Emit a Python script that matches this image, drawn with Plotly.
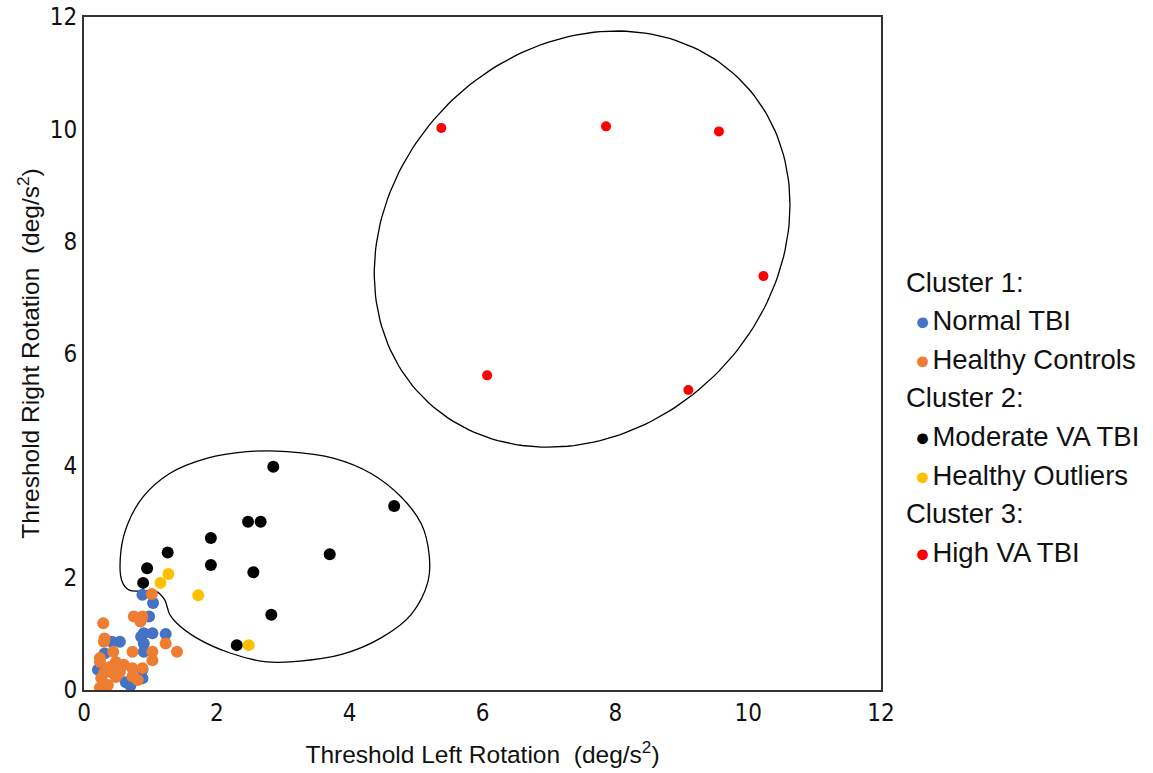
import numpy as np
import plotly.graph_objects as go

# ---- data ----
normal_tbi_x = [0.88, 1.04, 0.98, 0.90, 1.03, 1.23, 0.90, 0.90, 0.88, 0.88, 0.70, 0.63, 0.54, 0.42, 0.31, 0.21, 0.86]
normal_tbi_y = [1.70, 1.55, 1.31, 1.01, 1.01, 1.00, 0.83, 0.68, 0.36, 0.21, 0.08, 0.14, 0.86, 0.86, 0.65, 0.36, 0.95]

healthy_ctrl_x = [1.02, 0.75, 0.88, 0.85, 1.23, 1.40, 0.73, 1.03, 1.03, 0.73, 0.88, 0.73, 0.29, 0.31, 0.30,
                  0.44, 0.24, 0.48, 0.39, 0.26, 0.54, 0.81, 0.24, 0.48, 0.36, 0.24, 0.60, 0.44, 0.30]
healthy_ctrl_y = [1.71, 1.31, 1.31, 1.22, 0.83, 0.68, 0.68, 0.68, 0.53, 0.39, 0.39, 0.24, 1.19, 0.92, 0.86,
                  0.68, 0.50, 0.50, 0.41, 0.21, 0.32, 0.18, 0.04, 0.23, 0.09, 0.57, 0.45, 0.30, 0.30]

moderate_va_x = [2.85, 4.67, 2.47, 2.66, 1.91, 1.26, 3.70, 0.95, 1.91, 2.55, 0.89, 2.82, 2.30]
moderate_va_y = [3.98, 3.28, 3.00, 3.00, 2.71, 2.45, 2.42, 2.17, 2.23, 2.10, 1.91, 1.34, 0.80]

healthy_out_x = [1.27, 1.15, 1.72, 2.48]
healthy_out_y = [2.07, 1.91, 1.69, 0.80]

high_va_x = [5.38, 7.86, 9.56, 10.23, 6.07, 9.10]
high_va_y = [10.02, 10.05, 9.96, 7.38, 5.61, 5.35]

# hand-drawn cluster 2 outline
cluster2_outline_x = [0.556, 0.572, 0.682, 1.087, 1.214, 1.289, 1.390, 1.693, 2.199, 2.754, 3.209, 3.866,
                      4.473, 4.928, 5.181, 5.196, 5.080, 4.776, 4.322, 3.765, 3.057, 2.452, 1.845, 1.289,
                      0.886, 0.658, 0.556]
cluster2_outline_y = [2.48, 1.94, 1.78, 1.76, 1.61, 1.35, 1.20, 0.93, 0.66, 0.50, 0.51, 0.63,
                      0.93, 1.35, 1.94, 2.42, 2.96, 3.44, 3.86, 4.13, 4.25, 4.25, 4.13, 3.86,
                      3.44, 2.96, 2.48]

# cluster 3 ellipse parameters
c3_cx, c3_cy = 7.50, 8.04
c3_ax, c3_tilt, c3_ay = 3.13, 0.61, 3.66

tick_vals = [0, 2, 4, 6, 8, 10, 12]
tick_text = ["0", "2", "4", "6", "8", "10", "12"]

BLUE, ORANGE, BLACK, YELLOW, RED = "#4472C4", "#ED7D31", "#000000", "#FFC000", "#FF0000"

W, H = 1153, 773
L, R, T, B = 84, 881, 17, 690   # plot-area pixel box

fig = go.Figure()

# outlines
t = np.linspace(0, 2 * np.pi, 200)
fig.add_trace(go.Scatter(x=c3_cx + c3_ax * np.cos(t),
                         y=c3_cy + c3_tilt * np.cos(t) + c3_ay * np.sin(t),
                         mode="lines", line=dict(color="black", width=1.3),
                         hoverinfo="skip", showlegend=False))
fig.add_trace(go.Scatter(x=cluster2_outline_x, y=cluster2_outline_y, mode="lines",
                         line=dict(color="black", width=1.3, shape="spline", smoothing=1.0),
                         hoverinfo="skip", showlegend=False))

series = [
    ("Normal TBI", normal_tbi_x, normal_tbi_y, BLUE, 12),
    ("Healthy Controls", healthy_ctrl_x, healthy_ctrl_y, ORANGE, 12),
    ("Moderate VA TBI", moderate_va_x, moderate_va_y, BLACK, 12),
    ("Healthy Outliers", healthy_out_x, healthy_out_y, YELLOW, 12),
    ("High VA TBI", high_va_x, high_va_y, RED, 10),
]
for name, xs, ys, col, sz in series:
    fig.add_trace(go.Scatter(x=xs, y=ys, mode="markers", name=name,
                             marker=dict(color=col, size=sz, line=dict(width=0)),
                             showlegend=False))

# legend drawn as text
legend_lines = [
    ("Cluster 1:", None),
    ("Normal TBI", BLUE),
    ("Healthy Controls", ORANGE),
    ("Cluster 2:", None),
    ("Moderate VA TBI", BLACK),
    ("Healthy Outliers", YELLOW),
    ("Cluster 3:", None),
    ("High VA TBI", RED),
]
LEG_FONT = dict(size=27.5, color="#111", family="Liberation Sans, Arial")
y0_px, pitch = 282, 38.6
for i, (txt, col) in enumerate(legend_lines):
    ypx = y0_px + i * pitch
    yp = (B - ypx) / (B - T)
    if col is None:
        fig.add_annotation(x=(904 - L) / (R - L), y=yp, xref="paper", yref="paper", xanchor="left",
                           yanchor="middle", showarrow=False, text=txt, font=LEG_FONT)
    else:
        fig.add_annotation(x=(913 - L) / (R - L), y=yp, xref="paper", yref="paper", xanchor="left",
                           yanchor="middle", showarrow=False,
                           text=f"<span style='color:{col};font-size:25px'>●</span>&#8202;{txt}",
                           font=LEG_FONT)

axis_common = dict(range=[0, 12], tickvals=tick_vals, ticktext=tick_text, showgrid=False,
                   zeroline=False, showline=True, mirror=True, linecolor="#333", linewidth=2,
                   ticks="", automargin=False, ticklabeloverflow="allow",
                   tickfont=dict(size=24, color="#111",
                                 family="DejaVu Sans Condensed, Liberation Sans Narrow, sans-serif"),
                   fixedrange=True)

TITLE_FONT = dict(size=24.5, color="#111", family="Liberation Sans, Arial")
fig.update_layout(
    width=W, height=H,
    margin=dict(l=L, r=W - R, t=T, b=H - B, autoexpand=False),
    paper_bgcolor="white", plot_bgcolor="white",
    showlegend=False,
    xaxis=dict(**axis_common,
               title=dict(text="Threshold Left Rotation  (deg/s<sup>2</sup>)", standoff=20,
                          font=TITLE_FONT)),
    yaxis=dict(**axis_common,
               title=dict(text="Threshold Right Rotation  (deg/s<sup>2</sup>)", standoff=3,
                          font=TITLE_FONT)),
)

fig.write_html("out.html", config={"displayModeBar": False},
               post_script="document.body.style.margin='0';")
